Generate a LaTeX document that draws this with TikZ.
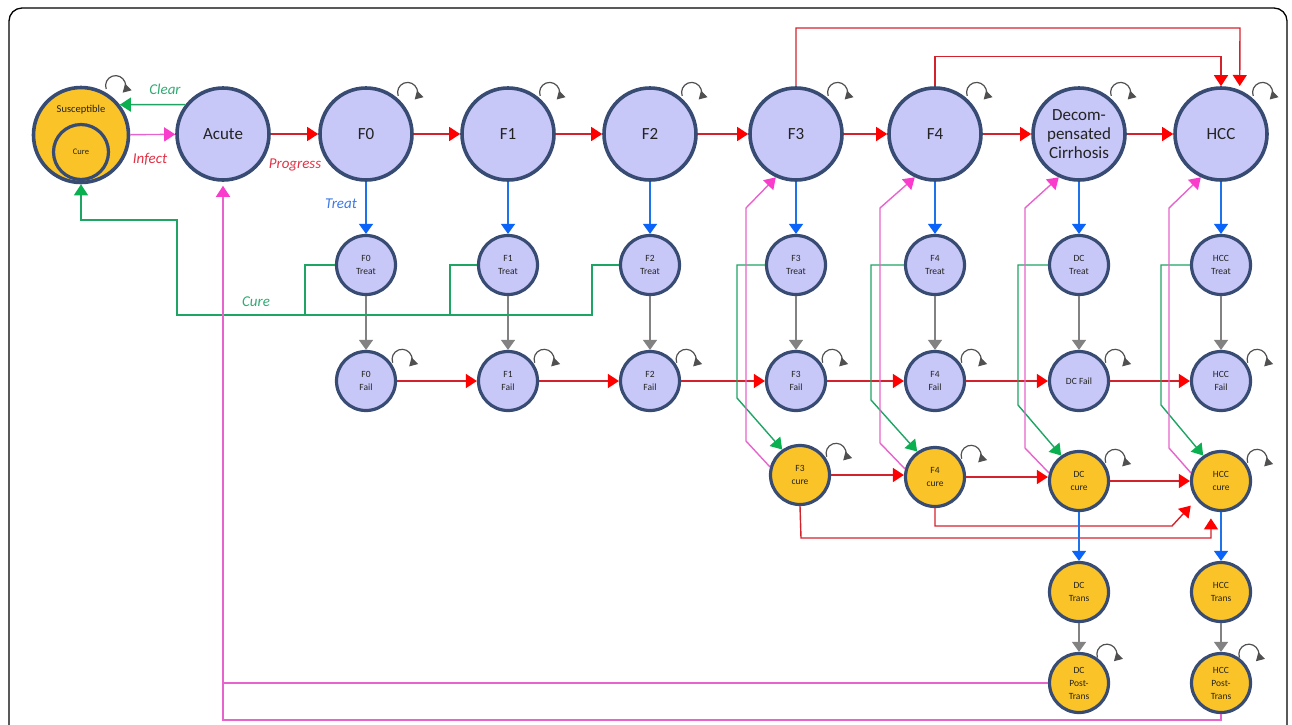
\documentclass[tikz,border=0pt]{standalone}
\usepackage{fontspec}
\setmainfont{Carlito}
\usetikzlibrary{arrows.meta,calc}
\definecolor{lav}{RGB}{200,200,248}
\definecolor{bord}{RGB}{55,75,115}
\definecolor{yel}{RGB}{250,196,40}
\definecolor{rd}{RGB}{210,35,45}
\definecolor{rdtip}{RGB}{255,0,0}
\definecolor{gr}{RGB}{30,165,100}
\definecolor{grtip}{RGB}{10,176,80}
\definecolor{mg}{RGB}{232,100,205}
\definecolor{mgtip}{RGB}{250,60,205}
\definecolor{bl}{RGB}{30,115,235}
\definecolor{bltip}{RGB}{10,100,250}
\definecolor{gy}{RGB}{130,130,130}
\definecolor{lpgray}{RGB}{80,80,80}
\definecolor{lbgreen}{RGB}{50,170,115}
\definecolor{lbred}{RGB}{225,50,70}
\definecolor{lbblue}{RGB}{60,120,230}
\definecolor{txt}{RGB}{35,35,35}
\newcommand{\sloop}[3]{\draw[loopst] ($(#1.#2)+(#2:#3)+(200:10)$) arc[start angle=200,end angle=-45,radius=10];}
\begin{document}
\begin{tikzpicture}[x=1pt,y=1pt,
  big/.style={circle,draw=bord,line width=3.6pt,fill=lav,minimum size=92pt,inner sep=0pt,text=txt,font=\fontsize{17}{19}\selectfont,align=center},
  sml/.style={circle,draw=bord,line width=3.2pt,fill=lav,minimum size=59pt,inner sep=0pt,text=txt,font=\fontsize{9.5}{13}\selectfont,align=center},
  ysml/.style={sml,fill=yel},
  lbl/.style={font=\fontsize{15}{15}\selectfont\itshape,inner sep=0pt},
  rarr/.style={draw=rd,line width=1.4pt,-{Triangle[width=14pt,length=11pt,color=rdtip]}},
  garr/.style={draw=gr,line width=1.4pt,-{Triangle[width=14pt,length=11pt,color=grtip]}},
  gline/.style={draw=gr,line width=1.4pt},
  marr/.style={draw=mg,line width=1.4pt,-{Triangle[width=14pt,length=11pt,color=mgtip]}},
  mline/.style={draw=mg,line width=1.4pt},
  barr/.style={draw=bl,line width=1.4pt,-{Triangle[width=14pt,length=10pt,color=bltip]}},
  yarr/.style={draw=gy,line width=1.4pt,-{Triangle[width=14pt,length=10pt,color=gy]}},
  loopst/.style={draw=lpgray,line width=1.2pt,-{Triangle[width=9pt,length=8pt,color=lpgray]}}
]
\useasboundingbox (0,0) rectangle (1292,-724);
\begin{scope}
\clip (0,0) rectangle (1292,-724);
\draw[line width=1.3pt,rounded corners=13pt] (9,-8) rectangle (1287,-760);
\end{scope}

% main row
\node[circle,draw=bord,line width=3.6pt,fill=yel,minimum size=95pt,inner sep=0pt] (Sus) at (81,-135) {};
\node[circle,draw=bord,line width=3.2pt,fill=yel,minimum size=55pt,inner sep=0pt,font=\fontsize{8.5}{10}\selectfont,text=txt] (SCure) at (81,-152) {Cure};
\node[font=\fontsize{10.5}{12}\selectfont,text=txt,inner sep=0pt] (SusT) at (81,-110) {Susceptible};
\node[big] (Acute) at (223,-134) {Acute};
\node[big] (F0) at (366,-134) {F0};
\node[big] (F1) at (508,-134) {F1};
\node[big] (F2) at (650,-134) {F2};
\node[big] (F3) at (796,-134) {F3};
\node[big] (F4) at (935,-134) {F4};
\node[big] (DC) at (1079,-134) {Decom-\\pensated\\Cirrhosis};
\node[big] (HCC) at (1221,-134) {HCC};

% treat row
\node[sml] (F0T) at (366,-265) {F0\\Treat};
\node[sml] (F1T) at (508,-265) {F1\\Treat};
\node[sml] (F2T) at (650,-265) {F2\\Treat};
\node[sml] (F3T) at (796,-265) {F3\\Treat};
\node[sml] (F4T) at (935,-265) {F4\\Treat};
\node[sml] (DCT) at (1079,-265) {DC\\Treat};
\node[sml] (HCCT) at (1221,-265) {HCC\\Treat};

% fail row
\node[sml] (F0F) at (366,-381) {F0\\Fail};
\node[sml] (F1F) at (508,-381) {F1\\Fail};
\node[sml] (F2F) at (650,-381) {F2\\Fail};
\node[sml] (F3F) at (796,-381) {F3\\Fail};
\node[sml] (F4F) at (935,-381) {F4\\Fail};
\node[sml] (DCF) at (1079,-381) {DC Fail};
\node[sml] (HCCF) at (1221,-381) {HCC\\Fail};

% cure row
\node[ysml] (F3C) at (800,-475) {F3\\cure};
\node[ysml] (F4C) at (935,-477) {F4\\cure};
\node[ysml] (DCC) at (1079,-481) {DC\\cure};
\node[ysml] (HCCC) at (1221,-481) {HCC\\cure};

% transplant rows
\node[ysml] (DCTr) at (1079,-592) {DC\\Trans};
\node[ysml] (HCCTr) at (1221,-592) {HCC\\Trans};
\node[ysml] (DCP) at (1079,-683) {DC\\Post-\\Trans};
\node[ysml] (HCCP) at (1221,-683) {HCC\\Post-\\Trans};

% labels
\node[lbl,text=lbgreen] (lclear) at (165,-89) {Clear};
\node[lbl,text=lbred] (linfect) at (150,-159) {Infect};
\node[lbl,text=lbred] (lprog) at (295,-165) {Progress};
\node[lbl,text=lbblue] (ltreat) at (341,-204) {Treat};
\node[lbl,text=lbgreen] (lcure) at (256,-302) {Cure};

% self loops
\sloop{Sus}{55}{11}
\foreach \n in {F0,F1,F2,F3,F4,DC,HCC} {\sloop{\n}{45}{11}}
\foreach \n in {F0F,F1F,F2F,F3F,F4F,DCF,HCCF,F3C,F4C,DCC,HCCC} {\sloop{\n}{31}{11}}
\sloop{DCP}{46}{9}
\sloop{HCCP}{46}{9}

% infect / clear
\draw[marr] (Sus) -- (Acute);
\draw[garr] (Acute.142) -- (Sus.38);

% progression main row
\draw[rarr] (Acute) -- (F0);
\draw[rarr] (F0) -- (F1);
\draw[rarr] (F1) -- (F2);
\draw[rarr] (F2) -- (F3);
\draw[rarr] (F3) -- (F4);
\draw[rarr] (F4) -- (DC);
\draw[rarr] (DC) -- (HCC);
\draw[rarr] (F4.north) -- ++(0,30) -| (HCC.north);
\draw[rarr,shorten >=4pt] (F3.north) -- (796,-28) -- (1240,-28) -- (HCC.67);

% treat
\foreach \a/\b in {F0/F0T,F1/F1T,F2/F2T,F3/F3T,F4/F4T,DC/DCT,HCC/HCCT} {\draw[barr] (\a) -- (\b);}
\foreach \a/\b in {F0T/F0F,F1T/F1F,F2T/F2F,F3T/F3F,F4T/F4F,DCT/DCF,HCCT/HCCF} {\draw[yarr] (\a) -- (\b);}

% fail row progression
\draw[rarr] (F0F) -- (F1F);
\draw[rarr] (F1F) -- (F2F);
\draw[rarr] (F2F) -- (F3F);
\draw[rarr] (F3F) -- (F4F);
\draw[rarr] (F4F) -- (DCF);
\draw[rarr] (DCF) -- (HCCF);

% cure back to susceptible
\draw[gline] (F0T.west) -- (305,-265) -- (305,-315);
\draw[gline] (F1T.west) -- (450,-265) -- (450,-315);
\draw[garr] (F2T.west) -- (592,-265) -- (592,-315) -- (177,-315) -- (177,-220) -- (81,-220) -- (Sus.south);

% cure for advanced stages
\draw[garr] (F3T.west) -- (737,-265) -- (737,-398) -- (F3C.125);
\draw[garr] (F4T.west) -- (871,-265) -- (871,-400) -- (F4C.125);
\draw[garr] (DCT.west) -- (1018,-265) -- (1018,-405) -- (DCC.125);
\draw[garr] (HCCT.west) -- (1161,-265) -- (1161,-405) -- (HCCC.125);

% reinfection from cure
\draw[marr] (F3C.165) -- (746,-441) -- (746,-208) -- (F3.245);
\draw[marr] (F4C.165) -- (880,-443) -- (880,-208) -- (F4.245);
\draw[marr] (DCC.165) -- (1025,-448) -- (1025,-208) -- (DC.245);
\draw[marr] (HCCC.165) -- (1169,-448) -- (1169,-208) -- (HCC.245);

% cure row progression
\draw[rarr] (F3C.east) -- (F3C.east -| F4C.west);
\draw[rarr] (F4C.east) -- (F4C.east -| DCC.west);
\draw[rarr] (DCC) -- (HCCC);
\draw[rarr,shorten >=8pt] (F4C.south) -- (935,-526) -- (1172,-526) -- (HCCC.217);
\draw[rarr,shorten >=8pt] (F3C.south) -- (801,-538) -- (1211,-538) -- (HCCC.251);

% transplant
\draw[barr] (DCC) -- (DCTr);
\draw[barr] (HCCC) -- (HCCTr);
\draw[yarr] (DCTr) -- (DCP);
\draw[yarr] (HCCTr) -- (HCCP);

% reinfection after transplant
\draw[marr,shorten >=4pt] (HCCP.south) -- (1221,-720) -- (223,-720) -- (Acute.south);
\draw[mline] (DCP.west) -- (223,-683);
\end{tikzpicture}
\end{document}
